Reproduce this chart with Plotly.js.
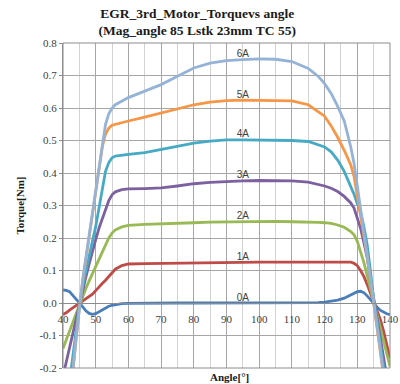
<!DOCTYPE html>
<html>
<head>
<meta charset="utf-8">
<script src="https://cdn.plot.ly/plotly-3.0.1.min.js"></script>
<style>html,body{margin:0;padding:0;background:#fff;}#chart{width:400px;height:384px;}</style>
</head>
<body>
<div id="chart"></div>
<script>
const angles = [40,41,42,43,44,45,46,47,48,49,50,51,52,53,54,55,56,58,60,65,70,75,80,85,90,95,100,105,110,115,118,120,122,124,126,128,129,130,131,132,133,134,135,136,137,138,139,140];

const torque0A = [0.04,0.039,0.035,0.025,0.012,0.001,-0.012,-0.024,-0.032,-0.035,-0.033,-0.027,-0.02,-0.014,-0.01,-0.007,-0.005,-0.002,-0.001,
  0,0,0,0,0,0,0,0,0,0,0,
  0.001,0.003,0.005,0.009,0.015,0.024,
  0.03,0.035,0.036,0.032,0.022,0.01,0.0,-0.012,-0.022,-0.028,-0.033,-0.036];
const torque1A = [-0.035,-0.03,-0.022,-0.015,-0.008,-0.001,0.006,0.012,0.018,0.027,0.038,0.05,0.06,0.07,0.082,0.094,0.104,0.115,0.12,
  0.121,0.122,0.122,0.123,0.124,0.125,0.125,0.126,0.126,0.126,0.126,
  0.126,0.126,0.126,0.126,0.126,0.126,
  0.122,0.115,0.1,0.082,0.058,0.03,0.003,-0.025,-0.05,-0.085,-0.125,-0.17];
const torque2A = [-0.14,-0.115,-0.088,-0.06,-0.033,-0.006,0.02,0.045,0.068,0.09,0.112,0.135,0.158,0.18,0.2,0.215,0.225,0.234,0.239,
  0.242,0.243,0.245,0.247,0.249,0.25,0.251,0.251,0.251,0.25,0.25,
  0.248,0.247,0.245,0.24,0.233,0.22,
  0.21,0.19,0.16,0.125,0.085,0.045,0.005,-0.035,-0.075,-0.115,-0.155,-0.195];
const torque3A = [-0.225,-0.18,-0.135,-0.09,-0.05,-0.01,0.035,0.08,0.12,0.16,0.195,0.23,0.26,0.29,0.315,0.333,0.342,0.349,0.351,
  0.352,0.354,0.36,0.367,0.371,0.374,0.376,0.377,0.377,0.376,0.372,
  0.366,0.36,0.353,0.343,0.328,0.308,
  0.292,0.262,0.23,0.186,0.14,0.075,0.01,-0.05,-0.105,-0.165,-0.225,-0.29];
const torque4A = [-0.4,-0.32,-0.24,-0.16,-0.08,-0.008,0.05,0.1,0.15,0.19,0.235,0.29,0.35,0.405,0.432,0.447,0.452,0.455,0.457,
  0.463,0.472,0.482,0.492,0.498,0.502,0.502,0.502,0.501,0.5,0.497,
  0.488,0.48,0.465,0.44,0.405,0.36,
  0.335,0.305,0.28,0.235,0.18,0.1,0.012,-0.055,-0.12,-0.19,-0.26,-0.33];
const torque5A = [-0.5,-0.4,-0.3,-0.2,-0.105,-0.015,0.065,0.135,0.2,0.27,0.34,0.41,0.48,0.52,0.538,0.547,0.55,0.555,0.56,
  0.572,0.585,0.598,0.61,0.618,0.623,0.624,0.624,0.624,0.622,0.61,
  0.59,0.575,0.545,0.51,0.47,0.425,
  0.39,0.33,0.27,0.21,0.145,0.075,0.005,-0.06,-0.13,-0.21,-0.29,-0.37];
const torque6A = [-0.55,-0.43,-0.32,-0.21,-0.11,-0.015,0.07,0.14,0.21,0.28,0.35,0.42,0.49,0.55,0.582,0.6,0.61,0.622,0.632,
  0.652,0.672,0.698,0.723,0.738,0.746,0.749,0.751,0.75,0.743,0.722,
  0.698,0.675,0.645,0.605,0.56,0.48,
  0.43,0.36,0.29,0.215,0.145,0.072,0.005,-0.065,-0.14,-0.22,-0.3,-0.38];

const seriesNames = ['0A','1A','2A','3A','4A','5A','6A'];
const seriesValues = [torque0A,torque1A,torque2A,torque3A,torque4A,torque5A,torque6A];
const seriesColors = ['#4a7ebb','#be4b48','#98b954','#7d60a0','#46aac5','#f79646','#95b3d7'];
const labelAngle = 95;

const yTickVals = [-0.2,-0.1,0,0.1,0.2,0.3,0.4,0.5,0.6,0.7,0.8];
const yTickText = ['-0.2','-0.1','0.0','0.1','0.2','0.3','0.4','0.5','0.6','0.7','0.8'];
const xTickVals = [40,50,60,70,80,90,100,110,120,130,140];
const xTickText = ['40','50','60','70','80','90','100','110','120','130','140'];

const labelIdx = angles.indexOf(labelAngle);
const traces = seriesNames.map((name, i) => ({
  type: 'scatter',
  mode: 'lines+text',
  name: name,
  x: angles,
  y: seriesValues[i],
  text: angles.map((a, k) => k === labelIdx ? name : ''),
  textposition: 'top center',
  textfont: {family: 'Liberation Sans, Arial, sans-serif', size: 10, color: '#404040'},
  line: {color: seriesColors[i], width: 2.8, shape: 'linear'},
  hoverinfo: 'skip',
  cliponaxis: true
}));

const serif = 'Liberation Serif, DejaVu Serif, serif';
const layout = {
  width: 400, height: 384,
  margin: {l: 63, r: 10, t: 43, b: 16},
  paper_bgcolor: '#ffffff', plot_bgcolor: '#ffffff',
  showlegend: false,
  title: {
    text: '<b>EGR_3rd_Motor_Torquevs angle</b><br><b>(Mag_angle 85 Lstk 23mm TC 55)</b>',
    font: {family: serif, size: 13.5, color: '#1a1a1a'},
    x: 0.493, xanchor: 'center', y: 0.954, yanchor: 'middle', yref: 'container'
  },
  xaxis: {
    range: [40, 140], tickmode: 'array', tickvals: xTickVals, ticktext: xTickText,
    anchor: 'free', position: 0.2,
    showline: true, linecolor: '#8c8c8c', linewidth: 1,
    showgrid: true, gridcolor: '#a6a6a6', gridwidth: 1,
    minor: {dtick: 5, tick0: 40, showgrid: true, gridcolor: '#d3d3d3', gridwidth: 1},
    zeroline: false, ticks: '', ticklabelstandoff: 6,
    tickfont: {family: serif, size: 11, color: '#404040'},
    fixedrange: true
  },
  yaxis: {
    range: [-0.2, 0.8], tickmode: 'array', tickvals: yTickVals, ticktext: yTickText,
    showline: true, linecolor: '#8c8c8c', linewidth: 1,
    showgrid: true, gridcolor: '#a6a6a6', gridwidth: 1,
    zeroline: false, ticks: 'outside', ticklen: 3, tickcolor: '#8c8c8c',
    tickfont: {family: serif, size: 11, color: '#404040'},
    title: {text: '<b>Torque[Nm]</b>', font: {family: serif, size: 11, color: '#1a1a1a'}, standoff: 12},
    automargin: false,
    fixedrange: true
  },
  shapes: [{type: 'rect', xref: 'paper', yref: 'paper', x0: 0, x1: 1, y0: 0, y1: 1, line: {color: '#8c8c8c', width: 1}}],
  annotations: [{
    text: '<b>Angle[°]</b>', xref: 'paper', yref: 'paper', x: 0.508, y: 0, yanchor: 'top', yshift: -1,
    showarrow: false, font: {family: serif, size: 11, color: '#1a1a1a'}
  }]
};

Plotly.newPlot('chart', traces, layout, {displayModeBar: false, staticPlot: true});
</script>
</body>
</html>
